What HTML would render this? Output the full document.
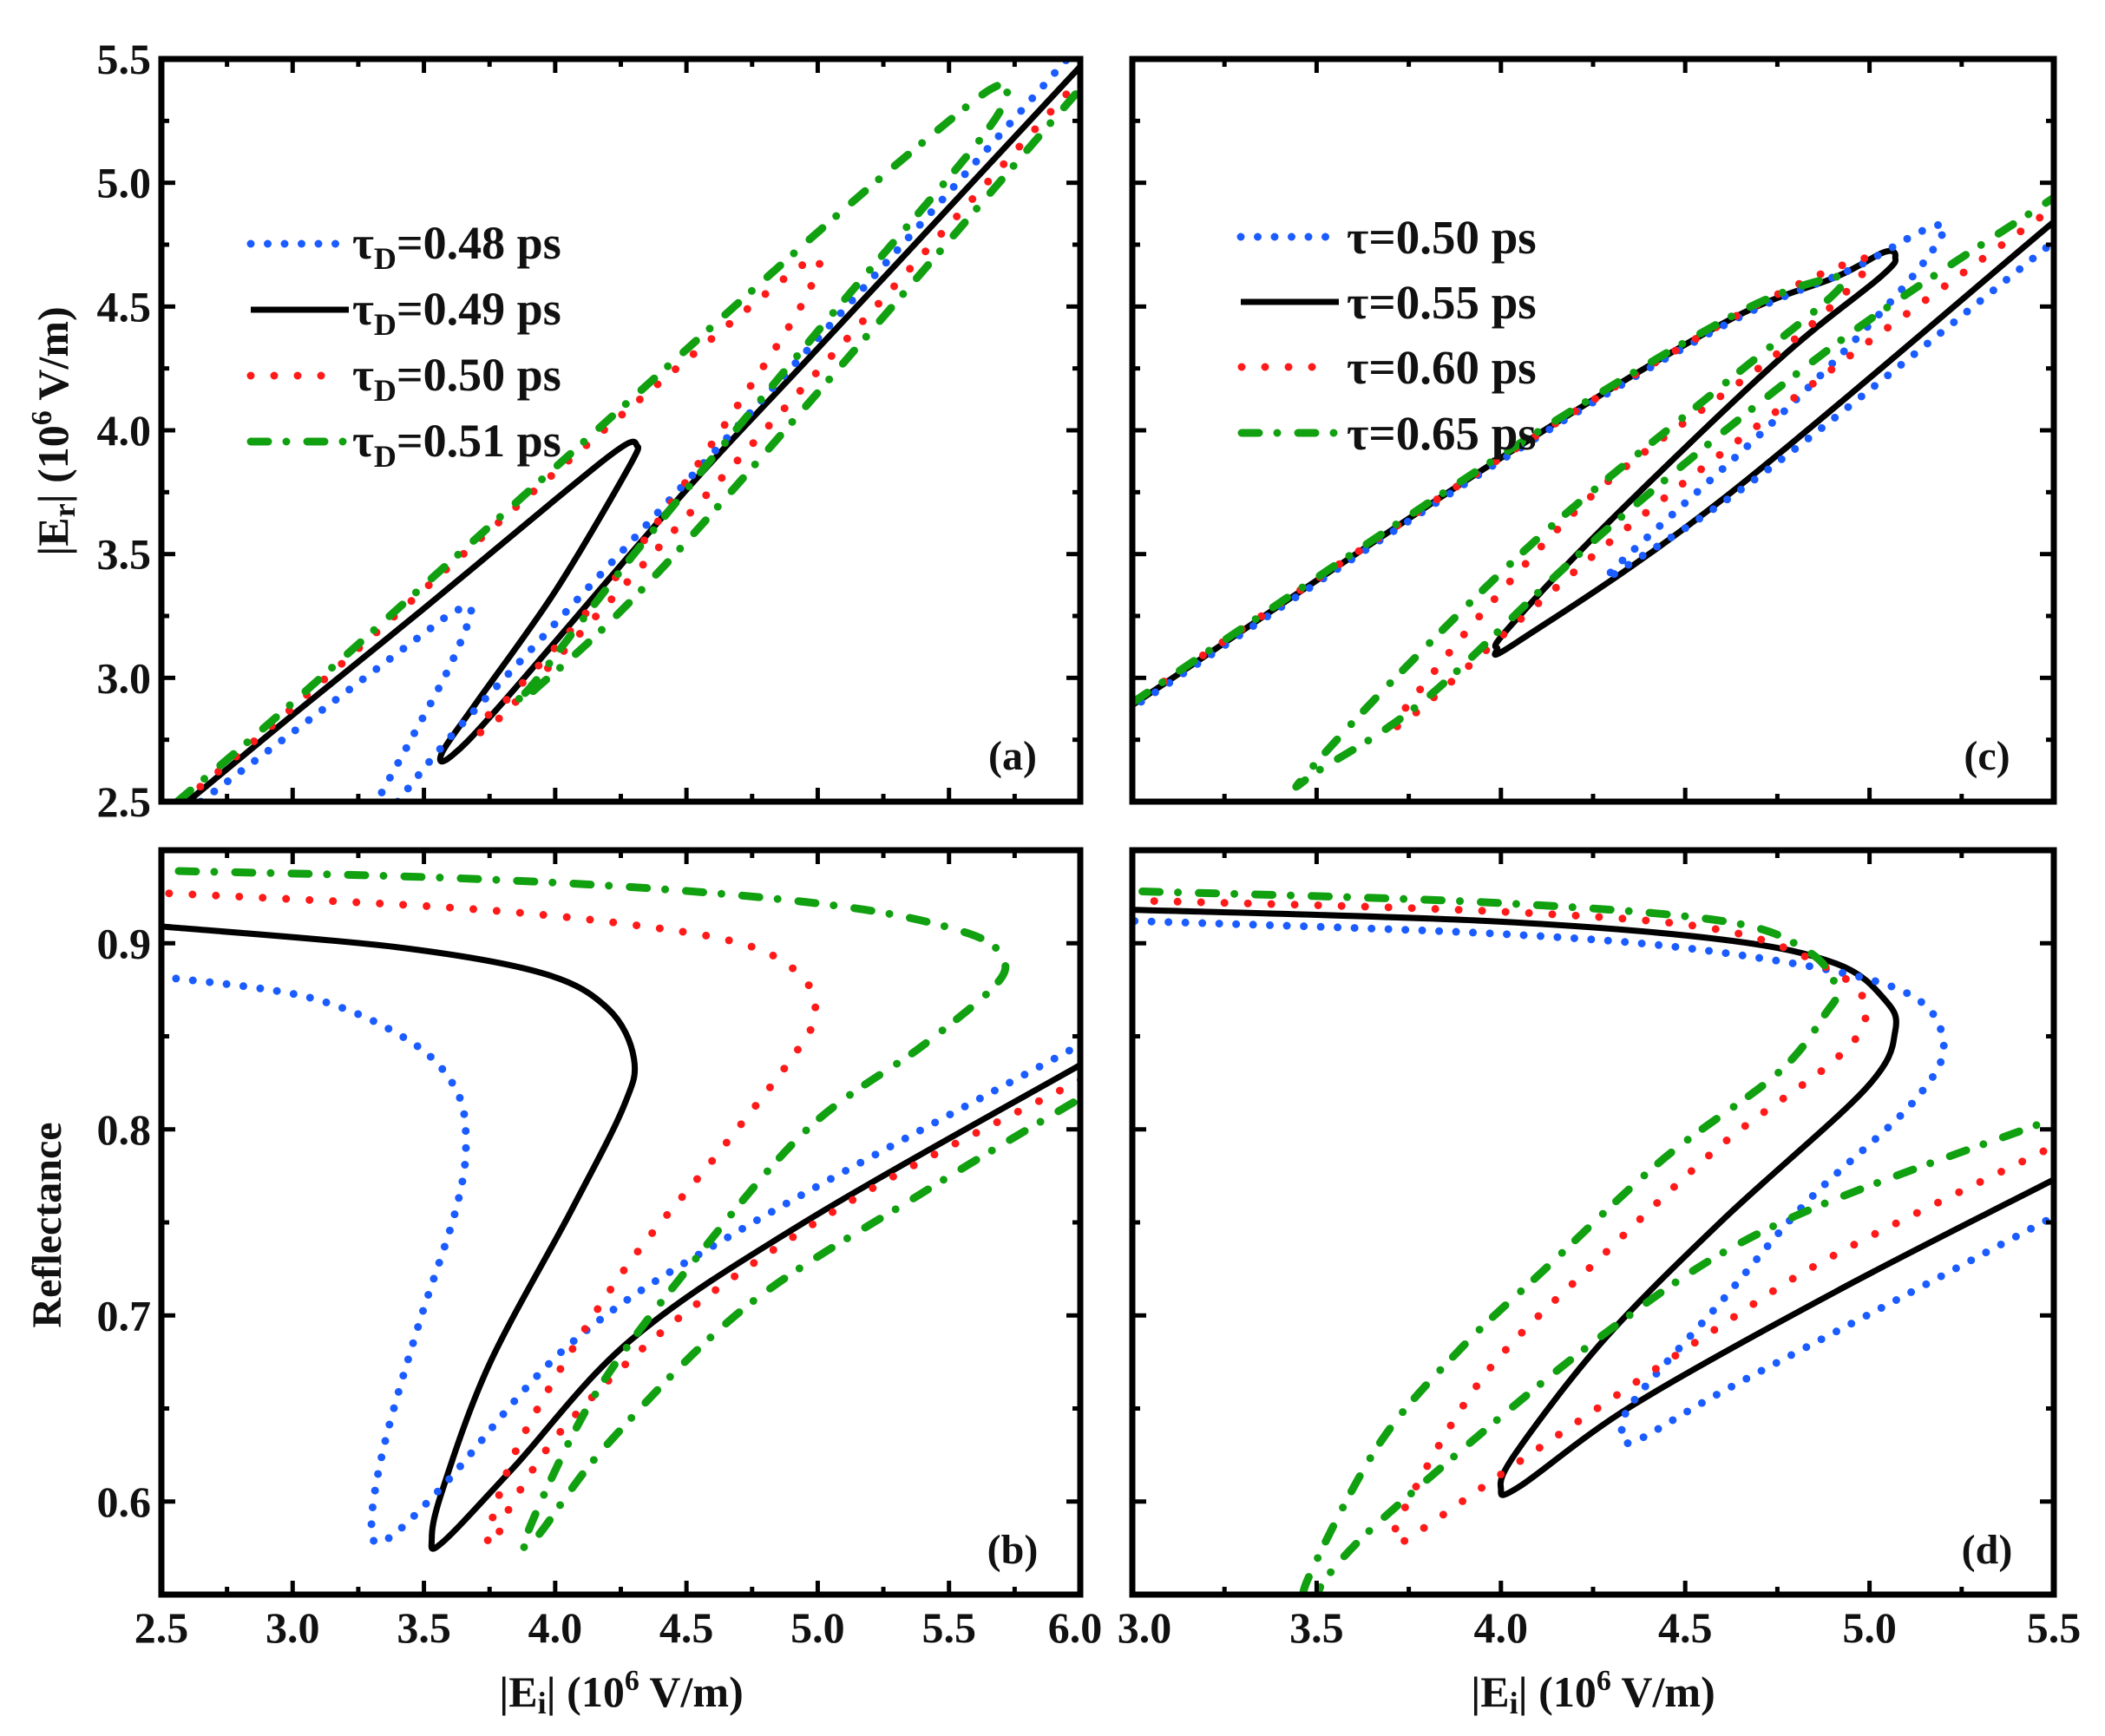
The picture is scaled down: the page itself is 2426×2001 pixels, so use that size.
<!DOCTYPE html>
<html><head><meta charset="utf-8"><style>
html,body{margin:0;padding:0;background:#fff;}
svg{display:block;}
text{font-family:"Liberation Serif",serif;font-weight:bold;fill:#111;}
</style></head><body>
<svg id="s" width="2426" height="2001" viewBox="0 0 2426 2001" xmlns="http://www.w3.org/2000/svg">
<defs>
<clipPath id="ca"><rect x="186" y="68" width="1059" height="856"/></clipPath>
<clipPath id="cc"><rect x="1305" y="68" width="1062" height="856"/></clipPath>
<clipPath id="cb"><rect x="186" y="980" width="1059" height="858"/></clipPath>
<clipPath id="cd"><rect x="1305" y="980" width="1062" height="858"/></clipPath>
</defs>
<g id="g"></g>
</svg>
<script>
const NS="http://www.w3.org/2000/svg";
const g=document.getElementById('g');
function el(t,a,p){const e=document.createElementNS(NS,t);for(const k in a)e.setAttribute(k,a[k]);(p||g).appendChild(e);return e;}
const P={
 a:{x0:186,x1:1245,y0:68,y1:924,xa:2.5,xb:6.0,ya:2.5,yb:5.5,clip:'ca'},
 c:{x0:1305,x1:2367,y0:68,y1:924,xa:3.0,xb:5.5,ya:2.5,yb:5.5,clip:'cc'},
 b:{x0:186,x1:1245,y0:980,y1:1838,xa:2.5,xb:6.0,ya:0.55,yb:0.95,clip:'cb'},
 d:{x0:1305,x1:2367,y0:980,y1:1838,xa:3.0,xb:5.5,ya:0.55,yb:0.95,clip:'cd'}};
function mx(p,v){return p.x0+(v-p.xa)/(p.xb-p.xa)*(p.x1-p.x0);}
function my(p,v){return p.y1-(v-p.ya)/(p.yb-p.ya)*(p.y1-p.y0);}
const ST={
 blue:{stroke:'#1a5cff','stroke-width':9,'stroke-dasharray':'0 19.5','stroke-linecap':'round'},
 black:{stroke:'#000','stroke-width':7,'stroke-linecap':'round'},
 red:{stroke:'#ff1a1a','stroke-width':9,'stroke-dasharray':'0 27','stroke-linecap':'round'},
 green:{stroke:'#10a010','stroke-width':9,'stroke-dasharray':'20 21 0 24','stroke-linecap':'round'}};
function curve(p,pts,st){
 const q=pts.map(a=>[mx(p,a[0]),my(p,a[1])]);
 let d='M'+q[0][0].toFixed(1)+' '+q[0][1].toFixed(1);
 for(let i=0;i<q.length-1;i++){
  const p0=q[Math.max(0,i-1)],p1=q[i],p2=q[i+1],p3=q[Math.min(q.length-1,i+2)];
  const c1=[p1[0]+(p2[0]-p0[0])/6,p1[1]+(p2[1]-p0[1])/6];
  const c2=[p2[0]-(p3[0]-p1[0])/6,p2[1]-(p3[1]-p1[1])/6];
  d+=`C${c1[0].toFixed(1)} ${c1[1].toFixed(1)} ${c2[0].toFixed(1)} ${c2[1].toFixed(1)} ${p2[0].toFixed(1)} ${p2[1].toFixed(1)}`;
 }
 el('path',Object.assign({d:d,fill:'none','clip-path':'url(#'+p.clip+')'},ST[st]));
}
// ---- panel a
curve(P.a,[[2.6,2.5],[3.0,2.85],[3.5,3.28],[4.0,3.72],[4.25,3.93],[4.31,3.94],[4.28,3.85],[4.0,3.35],[3.7,2.9],[3.57,2.7],[3.6,2.68],[3.8,2.9],[4.5,3.76],[5.0,4.33],[6.0,5.47],[6.05,5.53]],'black');
curve(P.a,[[2.65,2.5],[3.0,2.78],[3.5,3.18],[3.62,3.27],[3.68,3.27],[3.6,3.05],[3.45,2.75],[3.32,2.5]],'blue');
curve(P.a,[[3.4,2.5],[3.6,2.76],[4.0,3.22],[5.0,4.37],[5.95,5.5]],'blue');
curve(P.a,[[2.58,2.5],[3.0,2.88],[4.0,3.83],[4.8,4.55],[4.97,4.68],[5.0,4.65],[4.85,4.35],[4.3,3.5],[3.85,2.95],[3.72,2.83],[3.8,2.85],[4.5,3.65],[6.0,5.42],[6.05,5.48]],'red');
curve(P.a,[[2.56,2.5],[3.0,2.9],[4.0,3.85],[5.0,4.8],[5.5,5.25],[5.68,5.39],[5.72,5.36],[5.6,5.15],[5.0,4.4],[4.3,3.5],[3.92,2.98],[3.88,2.95],[3.92,2.95],[4.5,3.55],[6.0,5.38],[6.05,5.44]],'green');
// ---- panel c
curve(P.c,[[2.95,2.85],[3.0,2.89],[3.96,3.85],[4.6,4.43],[4.91,4.62],[5.04,4.72],[5.07,4.7],[5.03,4.62],[4.75,4.28],[4.28,3.61],[4.02,3.2],[3.99,3.12],[4.05,3.15],[4.6,3.72],[5.49,4.83],[5.55,4.9]],'black');
curve(P.c,[[2.95,2.85],[3.0,2.88],[3.96,3.84],[4.6,4.42],[4.95,4.65],[5.15,4.81],[5.2,4.8],[5.07,4.54],[4.75,4.05],[4.32,3.46],[4.36,3.47],[4.75,3.87],[5.49,4.75],[5.55,4.82]],'blue');
curve(P.c,[[2.95,2.85],[3.0,2.9],[3.96,3.85],[4.6,4.43],[4.95,4.68],[4.98,4.63],[4.75,4.31],[4.28,3.78],[3.96,3.28],[3.72,2.84],[3.7,2.82],[3.77,2.86],[4.28,3.53],[4.91,4.26],[5.49,4.89],[5.55,4.96]],'red');
curve(P.c,[[2.95,2.85],[3.0,2.9],[3.96,3.86],[4.6,4.44],[4.88,4.61],[4.91,4.56],[4.6,4.18],[4.12,3.59],[3.72,3.01],[3.46,2.59],[3.51,2.63],[3.8,2.92],[4.28,3.59],[4.91,4.35],[5.49,4.93],[5.55,4.99]],'green');
// ---- panel b
curve(P.b,[[2.45,0.91],[2.5,0.909],[3.39,0.898],[3.95,0.884],[4.2,0.865],[4.30,0.838],[4.26,0.812],[4.06,0.756],[3.75,0.674],[3.57,0.606],[3.53,0.58],[3.57,0.578],[3.84,0.618],[4.29,0.687],[4.96,0.751],[5.98,0.833],[6.05,0.838]],'black');
curve(P.b,[[2.45,0.883],[2.5,0.882],[3.06,0.871],[3.44,0.848],[3.62,0.822],[3.66,0.792],[3.62,0.756],[3.48,0.695],[3.35,0.631],[3.3,0.588],[3.35,0.579],[3.57,0.608],[4.06,0.685],[4.73,0.748],[5.98,0.844],[6.05,0.85]],'blue');
curve(P.b,[[2.45,0.927],[2.5,0.927],[3.62,0.919],[4.29,0.91],[4.73,0.899],[4.94,0.882],[4.99,0.862],[4.91,0.84],[4.62,0.787],[4.24,0.72],[3.88,0.636],[3.75,0.585],[3.77,0.578],[3.84,0.6],[4.06,0.644],[4.51,0.703],[5.18,0.766],[5.98,0.825],[6.05,0.83]],'red');
curve(P.b,[[2.45,0.939],[2.5,0.939],[3.62,0.935],[4.51,0.928],[5.18,0.918],[5.58,0.905],[5.7,0.893],[5.68,0.878],[5.4,0.845],[4.96,0.8],[4.51,0.726],[4.15,0.657],[3.9,0.585],[3.93,0.581],[4.2,0.631],[4.73,0.705],[5.4,0.766],[5.98,0.815],[6.05,0.82]],'green');
// ---- panel d
curve(P.d,[[2.95,0.918],[3.0,0.918],[3.96,0.912],[4.6,0.902],[4.91,0.889],[5.04,0.87],[5.07,0.853],[4.99,0.822],[4.6,0.751],[4.28,0.687],[4.04,0.626],[4.0,0.607],[4.05,0.608],[4.36,0.652],[4.91,0.713],[5.48,0.771],[5.55,0.778]],'black');
curve(P.d,[[2.95,0.912],[3.0,0.912],[4.0,0.905],[4.6,0.895],[5.07,0.876],[5.2,0.848],[5.12,0.815],[4.83,0.761],[4.6,0.708],[4.36,0.654],[4.33,0.636],[4.37,0.633],[4.6,0.659],[5.07,0.708],[5.49,0.752],[5.55,0.757]],'blue');
curve(P.d,[[2.95,0.923],[3.0,0.923],[4.0,0.917],[4.6,0.907],[4.91,0.884],[4.99,0.863],[4.91,0.838],[4.6,0.792],[4.28,0.733],[3.96,0.669],[3.73,0.593],[3.73,0.58],[3.77,0.583],[4.12,0.631],[4.6,0.695],[4.91,0.733],[5.49,0.79],[5.55,0.795]],'red');
curve(P.d,[[2.95,0.928],[3.0,0.928],[3.96,0.922],[4.6,0.912],[4.83,0.896],[4.91,0.876],[4.88,0.862],[4.75,0.83],[4.44,0.784],[4.12,0.725],[3.89,0.682],[3.67,0.631],[3.48,0.56],[3.47,0.545]],'green');
curve(P.d,[[3.5,0.545],[3.53,0.56],[3.72,0.598],[4.28,0.69],[4.75,0.749],[5.49,0.805],[5.55,0.81]],'green');
// ---- frames + ticks
function frame(p,xmaj,xmin,ymaj,ymin){
 for(let v=p.xa;v<=p.xb+1e-9;v+=xmin){
  const maj=Math.abs(v/xmaj-Math.round(v/xmaj))<1e-6;const L=maj?16:9;const x=mx(p,v);
  el('line',{x1:x,x2:x,y1:p.y1,y2:p.y1-L,stroke:'#000','stroke-width':5});
  el('line',{x1:x,x2:x,y1:p.y0,y2:p.y0+L,stroke:'#000','stroke-width':5});
 }
 for(let v=p.ya;v<=p.yb+1e-9;v+=ymin){
  const maj=Math.abs(v/ymaj-Math.round(v/ymaj))<1e-6;const L=maj?16:9;const y=my(p,v);
  el('line',{x1:p.x0,x2:p.x0+L,y1:y,y2:y,stroke:'#000','stroke-width':5});
  el('line',{x1:p.x1,x2:p.x1-L,y1:y,y2:y,stroke:'#000','stroke-width':5});
 }
 el('rect',{x:p.x0,y:p.y0,width:p.x1-p.x0,height:p.y1-p.y0,fill:'none',stroke:'#000','stroke-width':7});
}
frame(P.a,0.5,0.25,0.5,0.25);frame(P.c,0.5,0.25,0.5,0.25);
frame(P.b,0.5,0.25,0.1,0.05);frame(P.d,0.5,0.25,0.1,0.05);
function txt(x,y,s,a){const t=el('text',Object.assign({x:x,y:y,'font-size':50},a||{}));t.textContent=s;return t;}
['2.5','3.0','3.5','4.0','4.5','5.0','5.5'].forEach(s=>txt(174,my(P.a,+s)+17,s,{'text-anchor':'end'}));
['0.6','0.7','0.8','0.9'].forEach(s=>txt(174,my(P.b,+s)+17,s,{'text-anchor':'end'}));
['2.5','3.0','3.5','4.0','4.5','5.0','5.5'].forEach(s=>txt(mx(P.b,+s),1893,s,{'text-anchor':'middle'}));
txt(mx(P.b,6.0)-6,1893,'6.0',{'text-anchor':'middle'});
txt(mx(P.d,3.0)+14,1893,'3.0',{'text-anchor':'middle'});
['3.5','4.0','4.5','5.0','5.5'].forEach(s=>txt(mx(P.d,+s),1893,s,{'text-anchor':'middle'}));
txt(1167,887,'(a)',{'text-anchor':'middle','font-size':48});
txt(2290,887,'(c)',{'text-anchor':'middle','font-size':48});
txt(1167,1802,'(b)',{'text-anchor':'middle','font-size':48});
txt(2290,1802,'(d)',{'text-anchor':'middle','font-size':48});
</script>
<svg width="2426" height="2001" viewBox="0 0 2426 2001" style="position:absolute;left:0;top:0" xmlns="http://www.w3.org/2000/svg">
<g font-family="Liberation Serif, serif" font-weight="bold" fill="#111">
<text x="716" y="1967" font-size="50" text-anchor="middle">|E<tspan font-size="36" dy="8">i</tspan><tspan dy="-8">| (10</tspan><tspan font-size="34" dy="-19">6</tspan><tspan dy="19"> V/m)</tspan></text>
<text x="1836" y="1967" font-size="50" text-anchor="middle">|E<tspan font-size="36" dy="8">i</tspan><tspan dy="-8">| (10</tspan><tspan font-size="34" dy="-19">6</tspan><tspan dy="19"> V/m)</tspan></text>
<text transform="translate(78,497) rotate(-90)" font-size="50" text-anchor="middle">|E<tspan font-size="36" dy="8">r</tspan><tspan dy="-8">| (10</tspan><tspan font-size="34" dy="-19">6</tspan><tspan dy="19"> V/m)</tspan></text>
<text transform="translate(70,1412) rotate(-90)" font-size="48" text-anchor="middle">Reflectance</text>
<line x1="289" y1="281" x2="400" y2="281" stroke="#1a5cff" stroke-width="9" stroke-dasharray="0 19.5" stroke-linecap="round"/>
<line x1="289" y1="357" x2="402" y2="357" stroke="#000" stroke-width="7"/>
<line x1="289" y1="433" x2="385" y2="433" stroke="#ff1a1a" stroke-width="9" stroke-dasharray="0 27" stroke-linecap="round"/>
<line x1="289" y1="509" x2="400" y2="509" stroke="#10a010" stroke-width="9" stroke-dasharray="20 21 0 24" stroke-linecap="round"/>
<text x="406" y="298" font-size="54">τ<tspan font-size="36" dy="12">D</tspan><tspan dy="-12">=0.48 ps</tspan></text>
<text x="406" y="374" font-size="54">τ<tspan font-size="36" dy="12">D</tspan><tspan dy="-12">=0.49 ps</tspan></text>
<text x="406" y="450" font-size="54">τ<tspan font-size="36" dy="12">D</tspan><tspan dy="-12">=0.50 ps</tspan></text>
<text x="406" y="526" font-size="54">τ<tspan font-size="36" dy="12">D</tspan><tspan dy="-12">=0.51 ps</tspan></text>
<line x1="1430" y1="273" x2="1540" y2="273" stroke="#1a5cff" stroke-width="9" stroke-dasharray="0 19.5" stroke-linecap="round"/>
<line x1="1430" y1="348" x2="1543" y2="348" stroke="#000" stroke-width="7"/>
<line x1="1431" y1="423" x2="1520" y2="423" stroke="#ff1a1a" stroke-width="9" stroke-dasharray="0 27" stroke-linecap="round"/>
<line x1="1431" y1="499" x2="1540" y2="499" stroke="#10a010" stroke-width="9" stroke-dasharray="20 21 0 24" stroke-linecap="round"/>
<text x="1552" y="292" font-size="55">τ=0.50 ps</text>
<text x="1552" y="367" font-size="55">τ=0.55 ps</text>
<text x="1552" y="442" font-size="55">τ=0.60 ps</text>
<text x="1552" y="518" font-size="55">τ=0.65 ps</text>
</g>
</svg>
</body></html>
